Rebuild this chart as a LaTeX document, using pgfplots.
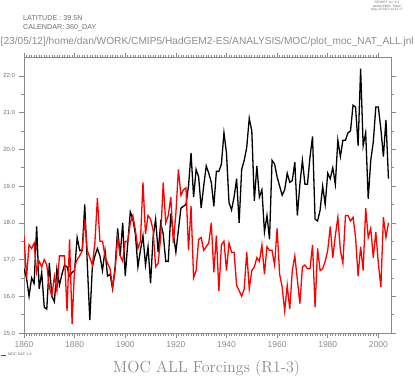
\documentclass[border=0pt]{standalone}
\usepackage{fontspec}
\newfontfamily\lab{Liberation Sans}
\usepackage{pgfplots}
\pgfplotsset{compat=1.18}
\definecolor{axgray}{HTML}{8A8A8A}
\definecolor{txgray}{HTML}{6E6E6E}
\definecolor{ltgray}{HTML}{8C8C8C}
\begin{document}
\begin{tikzpicture}
\path[use as bounding box] (0bp,0bp) rectangle (415bp,377bp);
\begin{axis}[
  at={(24bp,44bp)}, anchor=south west,
  scale only axis, width=367bp, height=275.5bp,
  xmin=1860, xmax=2005, ymin=15, ymax=22.5,
  axis line style={axgray, line width=0.7bp},
  tick style={axgray, line width=0.6bp},
  tick align=outside,
  major tick length=4.5bp, minor tick length=2.5bp,
  xtick={1860,1880,...,2000}, minor x tick num=19,
  ytick={15,16,...,22}, minor y tick num=1,
  /pgf/number format/assume math mode=true,
  /pgf/number format/1000 sep={},
  yticklabel style={/pgf/number format/fixed, /pgf/number format/fixed zerofill, /pgf/number format/precision=1,
     font=\lab\fontsize{6}{7}\selectfont, text=txgray, xshift=-1bp},
  xticklabel style={font=\lab\fontsize{8.5}{10}\selectfont, text=ltgray, yshift=-1bp},
  legend style={at={(axis description cs:-0.065,-0.08)}, anchor=west, draw=none, fill=none,
     font=\lab\fontsize{3.8}{4.5}\selectfont, text=txgray, inner sep=0pt,
     legend cell align=left},
  legend image code/.code={\draw[red, line width=0.7bp] (0bp,0bp) -- (5bp,0bp);},
]
\addplot[black, line width=1.3bp, forget plot] coordinates {
(1860,16.75)(1861,16.5)(1862,16.0)(1863,16.5)(1864,16.35)(1865,17.9)(1866,16.2)(1867,16.65)(1868,15.7)(1869,15.65)
(1870,16.9)(1871,16.0)(1872,15.85)(1873,16.75)(1874,16.3)(1875,16.6)(1876,16.85)(1877,16.8)(1878,16.55)(1879,16.65)
(1880,16.7)(1881,17.6)(1882,17.25)(1883,17.25)(1884,18.5)(1885,16.9)(1886,15.35)(1887,16.8)(1888,17.1)(1889,17.3)
(1890,17.1)(1891,16.7)(1892,17.25)(1893,16.55)(1894,16.6)(1895,16.2)(1896,16.8)(1897,17.85)(1898,17.1)(1899,18.0)
(1900,16.55)(1901,17.45)(1902,18.3)(1903,18.1)(1904,17.7)(1905,16.8)(1906,17.25)(1907,17.65)(1908,16.85)(1909,17.35)
(1910,16.35)(1911,17.6)(1912,18.1)(1913,17.2)(1914,18.0)(1915,17.7)(1916,16.95)(1917,16.95)(1918,18.25)(1919,17.7)
(1920,17.2)(1921,17.8)(1922,18.4)(1923,18.45)(1924,18.5)(1925,19.0)(1926,19.9)(1927,18.7)(1928,19.45)(1929,19.25)
(1930,18.4)(1931,19.0)(1932,19.55)(1933,19.35)(1934,19.1)(1935,18.45)(1936,19.4)(1937,19.4)(1938,19.6)(1939,20.45)
(1940,19.9)(1941,18.55)(1942,18.35)(1943,18.7)(1944,19.2)(1945,18.0)(1946,19.45)(1947,19.7)(1948,20.05)(1949,20.85)
(1950,20.5)(1951,18.6)(1952,19.55)(1953,18.7)(1954,18.9)(1955,17.75)(1956,18.2)(1957,17.55)(1958,19.7)(1959,19.6)
(1960,19.25)(1961,19.0)(1962,18.75)(1963,18.9)(1964,19.35)(1965,19.1)(1966,19.15)(1967,19.65)(1968,18.2)(1969,19.05)
(1970,19.7)(1971,19.05)(1972,19.05)(1973,19.8)(1974,20.35)(1975,18.1)(1976,18.05)(1977,18.35)(1978,19.0)(1979,18.5)
(1980,19.35)(1981,19.2)(1982,19.5)(1983,19.05)(1984,20.25)(1985,19.8)(1986,20.25)(1987,20.25)(1988,20.45)(1989,20.5)
(1990,21.2)(1991,21.15)(1992,20.1)(1993,22.2)(1994,20.1)(1995,20.45)(1996,18.65)(1997,19.7)(1998,20.2)(1999,21.15)
(2000,21.15)(2001,20.55)(2002,19.8)(2003,20.8)(2004,19.2)
};
\addplot[red, line width=1.3bp] coordinates {
(1860,17.65)(1861,16.5)(1862,17.4)(1863,17.3)(1864,17.45)(1865,16.65)(1866,16.95)(1867,16.8)(1868,17.0)(1869,16.85)
(1870,16.25)(1871,16.0)(1872,16.55)(1873,16.15)(1874,17.1)(1875,17.1)(1876,17.1)(1877,15.6)(1878,17.55)(1879,15.25)
(1880,16.8)(1881,17.0)(1882,17.1)(1883,17.25)(1884,18.1)(1885,17.25)(1886,17.05)(1887,16.85)(1888,17.45)(1889,18.67)
(1890,17.5)(1891,17.5)(1892,17.1)(1893,16.9)(1894,16.75)(1895,16.25)(1896,16.7)(1897,17.6)(1898,17.1)(1899,16.95)
(1900,17.5)(1901,17.5)(1902,18.0)(1903,18.2)(1904,17.8)(1905,17.3)(1906,17.5)(1907,19.1)(1908,17.7)(1909,18.2)
(1910,18.1)(1911,17.8)(1912,16.8)(1913,16.9)(1914,17.6)(1915,19.1)(1916,18.0)(1917,18.2)(1918,18.7)(1919,17.45)
(1920,18.25)(1921,19.45)(1922,18.75)(1923,18.9)(1924,18.95)(1925,17.25)(1926,18.45)(1927,16.5)(1928,16.7)(1929,17.55)
(1930,17.6)(1931,17.25)(1932,17.35)(1933,17.45)(1934,18.0)(1935,16.65)(1936,17.65)(1937,16.15)(1938,17.4)(1939,17.5)
(1940,16.7)(1941,17.45)(1942,17.2)(1943,17.2)(1944,16.3)(1945,16.15)(1946,16.0)(1947,16.2)(1948,17.2)(1949,16.2)
(1950,16.7)(1951,16.8)(1952,17.05)(1953,16.95)(1954,17.4)(1955,16.6)(1956,17.35)(1957,17.25)(1958,17.25)(1959,16.85)
(1960,17.85)(1961,16.6)(1962,16.25)(1963,15.6)(1964,16.3)(1965,15.65)(1966,16.7)(1967,17.1)(1968,16.45)(1969,15.8)
(1970,16.8)(1971,16.85)(1972,16.75)(1973,16.75)(1974,17.4)(1975,15.7)(1976,17.3)(1977,16.7)(1978,16.75)(1979,16.95)
(1980,17.25)(1981,17.9)(1982,17.05)(1983,17.65)(1984,18.15)(1985,17.25)(1986,16.9)(1987,18.2)(1988,18.2)(1989,18.05)
(1990,18.15)(1991,17.6)(1992,16.55)(1993,17.35)(1994,16.7)(1995,18.4)(1996,17.6)(1997,17.85)(1998,17.05)(1999,17.75)
(2000,16.9)(2001,16.25)(2002,18.15)(2003,17.6)(2004,18.0)
};
\addlegendentry{MOC NAT 1-4}
\end{axis}
% header texts
\node[anchor=north, align=center, font=\lab\fontsize{3.2}{3.6}\selectfont, text=txgray, inner sep=0pt]
  at (387bp,376bp) {FERRET Ver. 6.1\\NOAA/PMEL TMAP\\May 23 2012 14:15:27};
\node[anchor=west, font=\lab\fontsize{7.2}{8}\selectfont, text=txgray, inner sep=0pt] at (23bp,359bp) {LATITUDE : 39.5N};
\node[anchor=west, font=\lab\fontsize{7.2}{8}\selectfont, text=txgray, inner sep=0pt] at (23bp,349.5bp) {CALENDAR: 360\_DAY};
\node[anchor=west, text=ltgray, inner sep=0pt] at (0.5bp,335bp)
  {\resizebox{413bp}{!}{\lab [23/05/12]/home/dan/WORK/CMIP5/HadGEM2-ES/ANALYSIS/MOC/plot\_moc\_NAT\_ALL.jnl}};
% title
\node[anchor=center, text=ltgray, inner sep=0pt] at (206.5bp,8.5bp)
  {\resizebox{187bp}{!}{\fontsize{13}{15}\selectfont MOC ALL Forcings (R1-3)}};
\end{tikzpicture}
\end{document}
